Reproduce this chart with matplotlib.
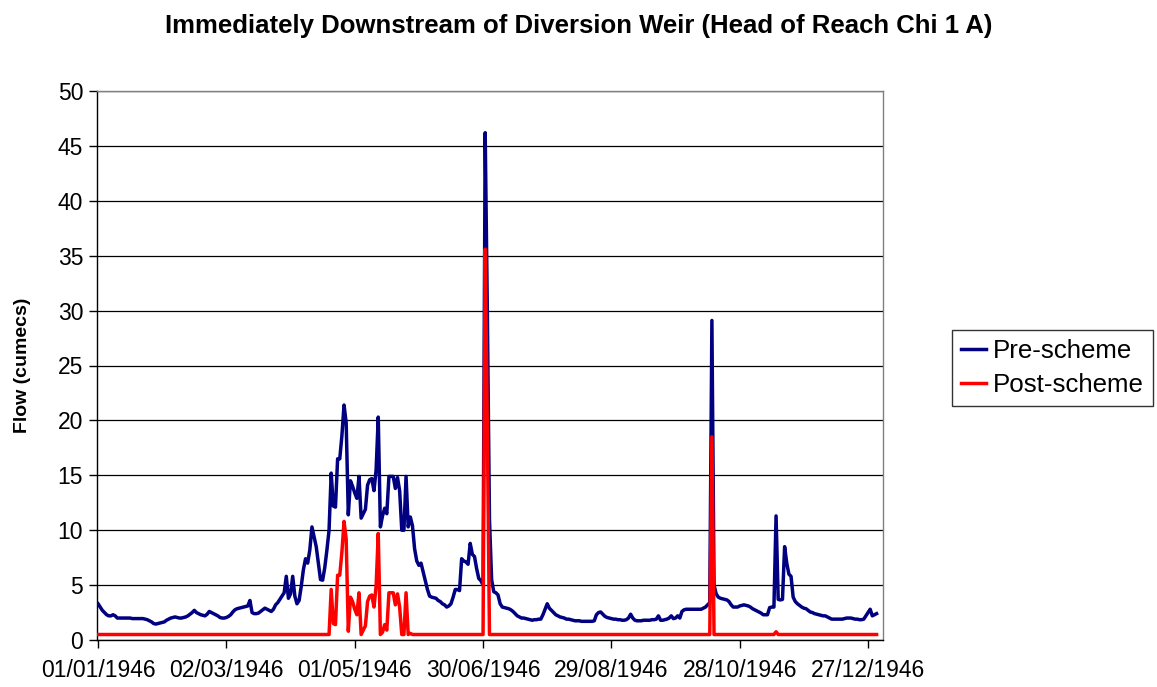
import matplotlib
matplotlib.use("Agg")
import matplotlib.pyplot as plt
import numpy as np

plt.rcParams['font.family'] = ['Liberation Sans', 'DejaVu Sans']

title = "Immediately Downstream of Diversion Weir (Head of Reach Chi 1 A)"
y_label = "Flow (cumecs)"
series_names = ["Pre-scheme", "Post-scheme"]
tick_days = [0, 60, 120, 180, 240, 300, 360]
tick_labels = ["01/01/1946", "02/03/1946", "01/05/1946", "30/06/1946",
               "29/08/1946", "28/10/1946", "27/12/1946"]

# Pre-scheme daily flow (cumecs), 1946, by month
pre_jan = [3.3, 3.0, 2.7, 2.5, 2.3, 2.2, 2.2, 2.3, 2.2, 2.0,
           2.0, 2.0, 2.0, 2.0, 2.0, 2.0, 1.95, 1.95, 1.95, 1.95,
           1.95, 1.95, 1.9, 1.85, 1.75, 1.65, 1.5, 1.45, 1.5, 1.55,
           1.6]
pre_feb = [1.65, 1.8, 1.9, 2.0, 2.05, 2.1, 2.05, 2.0, 2.0, 2.05,
           2.1, 2.2, 2.35, 2.5, 2.7, 2.5, 2.4, 2.3, 2.25, 2.2,
           2.35, 2.6, 2.5, 2.4, 2.3, 2.2, 2.05, 2.0]
pre_mar = [2.0, 2.05, 2.15, 2.3, 2.55, 2.75, 2.85, 2.9, 2.95, 3.0,
           3.05, 3.1, 3.6, 2.5, 2.4, 2.4, 2.45, 2.6, 2.75, 2.9,
           2.8, 2.7, 2.6, 2.8, 3.2, 3.4, 3.7, 4.0, 4.3, 5.8,
           3.8]
pre_apr = [4.2, 5.8, 4.0, 3.3, 3.6, 4.9, 6.4, 7.4, 7.0, 8.2,
           10.3, 9.4, 8.5, 7.0, 5.5, 5.45, 6.6, 8.2, 10.0, 15.2,
           12.2, 12.1, 16.5, 16.5, 18.6, 21.4, 19.8, 11.4, 14.5, 14.0]
pre_may = [13.4, 12.9, 14.9, 11.1, 11.5, 11.9, 14.1, 14.6, 14.7, 13.6,
           15.5, 20.3, 10.3, 11.3, 12.0, 11.5, 14.9, 14.9, 14.9, 13.8,
           14.8, 13.6, 10.0, 10.0, 14.9, 10.3, 11.2, 10.4, 8.3, 7.2,
           6.8]
pre_jun = [7.0, 6.2, 5.4, 4.6, 4.0, 3.9, 3.85, 3.8, 3.6, 3.5,
           3.3, 3.2, 3.0, 3.1, 3.3, 3.9, 4.6, 4.6, 4.5, 7.4,
           7.2, 7.1, 6.9, 8.8, 7.8, 7.6, 6.5, 5.6, 5.4, 5.0]
pre_jul = [46.2, 30.0, 11.0, 5.5, 4.4, 4.3, 4.1, 3.3, 3.0, 2.95,
           2.9, 2.85, 2.75, 2.6, 2.4, 2.2, 2.1, 2.0, 2.0, 1.95,
           1.9, 1.85, 1.8, 1.85, 1.85, 1.9, 1.9, 2.3, 2.8, 3.3,
           2.9]
pre_aug = [2.7, 2.5, 2.3, 2.2, 2.1, 2.05, 2.0, 1.9, 1.9, 1.85,
           1.8, 1.75, 1.75, 1.75, 1.7, 1.7, 1.7, 1.7, 1.7, 1.7,
           1.75, 2.3, 2.5, 2.55, 2.35, 2.15, 2.05, 2.0, 1.95, 1.9,
           1.9]
pre_sep = [1.85, 1.85, 1.8, 1.8, 1.85, 2.0, 2.35, 2.0, 1.8, 1.75,
           1.75, 1.75, 1.8, 1.8, 1.8, 1.8, 1.85, 1.85, 1.9, 2.2,
           1.8, 1.8, 1.85, 1.9, 2.0, 2.2, 1.95, 2.0, 2.2, 2.0]
pre_oct = [2.6, 2.75, 2.8, 2.8, 2.8, 2.8, 2.8, 2.8, 2.8, 2.8,
           2.9, 3.0, 3.2, 3.4, 29.1, 5.0, 4.2, 3.9, 3.8, 3.75,
           3.7, 3.65, 3.5, 3.2, 3.0, 3.0, 3.0, 3.1, 3.15, 3.2,
           3.15]
pre_nov = [3.1, 3.0, 2.85, 2.75, 2.65, 2.55, 2.45, 2.3, 2.3, 2.3,
           2.95, 3.0, 3.0, 11.3, 3.7, 3.65, 3.7, 8.5, 7.0, 6.0,
           5.8, 3.9, 3.5, 3.3, 3.15, 3.0, 2.9, 2.85, 2.7, 2.55]
pre_dec = [2.5, 2.4, 2.35, 2.3, 2.25, 2.2, 2.2, 2.1, 2.0, 1.9,
           1.9, 1.9, 1.9, 1.9, 1.9, 1.95, 2.0, 2.0, 2.0, 1.95,
           1.9, 1.9, 1.85, 1.85, 1.9, 2.2, 2.5, 2.8, 2.2, 2.3,
           2.4]

# Post-scheme daily flow (cumecs), 1946, by month
post_jan = [0.5, 0.5, 0.5, 0.5, 0.5, 0.5, 0.5, 0.5, 0.5, 0.5,
            0.5, 0.5, 0.5, 0.5, 0.5, 0.5, 0.5, 0.5, 0.5, 0.5,
            0.5, 0.5, 0.5, 0.5, 0.5, 0.5, 0.5, 0.5, 0.5, 0.5,
            0.5]
post_feb = [0.5, 0.5, 0.5, 0.5, 0.5, 0.5, 0.5, 0.5, 0.5, 0.5,
            0.5, 0.5, 0.5, 0.5, 0.5, 0.5, 0.5, 0.5, 0.5, 0.5,
            0.5, 0.5, 0.5, 0.5, 0.5, 0.5, 0.5, 0.5]
post_mar = [0.5, 0.5, 0.5, 0.5, 0.5, 0.5, 0.5, 0.5, 0.5, 0.5,
            0.5, 0.5, 0.5, 0.5, 0.5, 0.5, 0.5, 0.5, 0.5, 0.5,
            0.5, 0.5, 0.5, 0.5, 0.5, 0.5, 0.5, 0.5, 0.5, 0.5,
            0.5]
post_apr = [0.5, 0.5, 0.5, 0.5, 0.5, 0.5, 0.5, 0.5, 0.5, 0.5,
            0.5, 0.5, 0.5, 0.5, 0.5, 0.5, 0.5, 0.5, 0.5, 4.6,
            1.5, 1.4, 5.9, 5.9, 8.0, 10.8, 9.2, 0.8, 3.9, 3.5]
post_may = [2.8, 2.3, 4.3, 0.5, 0.9, 1.3, 3.5, 4.0, 4.1, 3.0,
            4.9, 9.7, 0.5, 0.7, 1.4, 0.9, 4.3, 4.3, 4.3, 3.2,
            4.2, 3.0, 0.5, 0.5, 4.3, 0.5, 0.6, 0.5, 0.5, 0.5,
            0.5]
post_jun = [0.5, 0.5, 0.5, 0.5, 0.5, 0.5, 0.5, 0.5, 0.5, 0.5,
            0.5, 0.5, 0.5, 0.5, 0.5, 0.5, 0.5, 0.5, 0.5, 0.5,
            0.5, 0.5, 0.5, 0.5, 0.5, 0.5, 0.5, 0.5, 0.5, 0.5]
post_jul = [35.6, 19.4, 0.5, 0.5, 0.5, 0.5, 0.5, 0.5, 0.5, 0.5,
            0.5, 0.5, 0.5, 0.5, 0.5, 0.5, 0.5, 0.5, 0.5, 0.5,
            0.5, 0.5, 0.5, 0.5, 0.5, 0.5, 0.5, 0.5, 0.5, 0.5,
            0.5]
post_aug = [0.5, 0.5, 0.5, 0.5, 0.5, 0.5, 0.5, 0.5, 0.5, 0.5,
            0.5, 0.5, 0.5, 0.5, 0.5, 0.5, 0.5, 0.5, 0.5, 0.5,
            0.5, 0.5, 0.5, 0.5, 0.5, 0.5, 0.5, 0.5, 0.5, 0.5,
            0.5]
post_sep = [0.5, 0.5, 0.5, 0.5, 0.5, 0.5, 0.5, 0.5, 0.5, 0.5,
            0.5, 0.5, 0.5, 0.5, 0.5, 0.5, 0.5, 0.5, 0.5, 0.5,
            0.5, 0.5, 0.5, 0.5, 0.5, 0.5, 0.5, 0.5, 0.5, 0.5]
post_oct = [0.5, 0.5, 0.5, 0.5, 0.5, 0.5, 0.5, 0.5, 0.5, 0.5,
            0.5, 0.5, 0.5, 0.5, 18.5, 0.5, 0.5, 0.5, 0.5, 0.5,
            0.5, 0.5, 0.5, 0.5, 0.5, 0.5, 0.5, 0.5, 0.5, 0.5,
            0.5]
post_nov = [0.5, 0.5, 0.5, 0.5, 0.5, 0.5, 0.5, 0.5, 0.5, 0.5,
            0.5, 0.5, 0.5, 0.75, 0.5, 0.5, 0.5, 0.5, 0.5, 0.5,
            0.5, 0.5, 0.5, 0.5, 0.5, 0.5, 0.5, 0.5, 0.5, 0.5]
post_dec = [0.5, 0.5, 0.5, 0.5, 0.5, 0.5, 0.5, 0.5, 0.5, 0.5,
            0.5, 0.5, 0.5, 0.5, 0.5, 0.5, 0.5, 0.5, 0.5, 0.5,
            0.5, 0.5, 0.5, 0.5, 0.5, 0.5, 0.5, 0.5, 0.5, 0.5,
            0.5]

pre = np.array(pre_jan + pre_feb + pre_mar + pre_apr + pre_may + pre_jun +
               pre_jul + pre_aug + pre_sep + pre_oct + pre_nov + pre_dec)
post = np.array(post_jan + post_feb + post_mar + post_apr + post_may + post_jun +
                post_jul + post_aug + post_sep + post_oct + post_nov + post_dec)
days = np.arange(len(pre))

fig = plt.figure(figsize=(11.57, 6.87), dpi=100)
ax = fig.add_axes([97 / 1157, 1 - 640 / 687, (883 - 97) / 1157, (640 - 91) / 687])

ax.plot(days, pre, color='#000080', lw=2.5, label=series_names[0], zorder=3)
ax.plot(days, post, color='#FF0000', lw=2.5, label=series_names[1], zorder=4)

ax.set_xlim(-0.5, 367)
ax.set_ylim(0, 50)
ax.set_yticks(np.arange(0, 51, 5))
ax.set_xticks(tick_days)
ax.set_xticklabels(tick_labels)
ax.tick_params(axis='both', labelsize=16.5, direction='out', length=6, width=1,
               color='black', pad=4)
ax.tick_params(axis='x', pad=8)
ax.yaxis.grid(True, color='black', lw=0.9)
ax.set_axisbelow(True)
for side in ['left', 'bottom']:
    ax.spines[side].set_color('black')
    ax.spines[side].set_linewidth(1.0)
for side in ['top', 'right']:
    ax.spines[side].set_color('#808080')
    ax.spines[side].set_linewidth(1.0)

ax.set_ylabel(y_label, fontsize=14, fontweight='bold', labelpad=19)
fig.text(0.5, 1 - 26 / 687, title, ha='center', va='center',
         fontsize=18.5, fontweight='bold')

leg = fig.legend(loc='upper left', bbox_to_anchor=(952 / 1157, 1 - 330 / 687),
                 fontsize=18.6, frameon=True, fancybox=False, borderpad=0.35,
                 handlelength=0.97, handletextpad=0.28, labelspacing=0.38,
                 borderaxespad=0)
leg.get_frame().set_edgecolor('black')
leg.get_frame().set_linewidth(1.0)
for line in leg.get_lines():
    line.set_linewidth(2.5)

fig.savefig('out.png', dpi=100)
